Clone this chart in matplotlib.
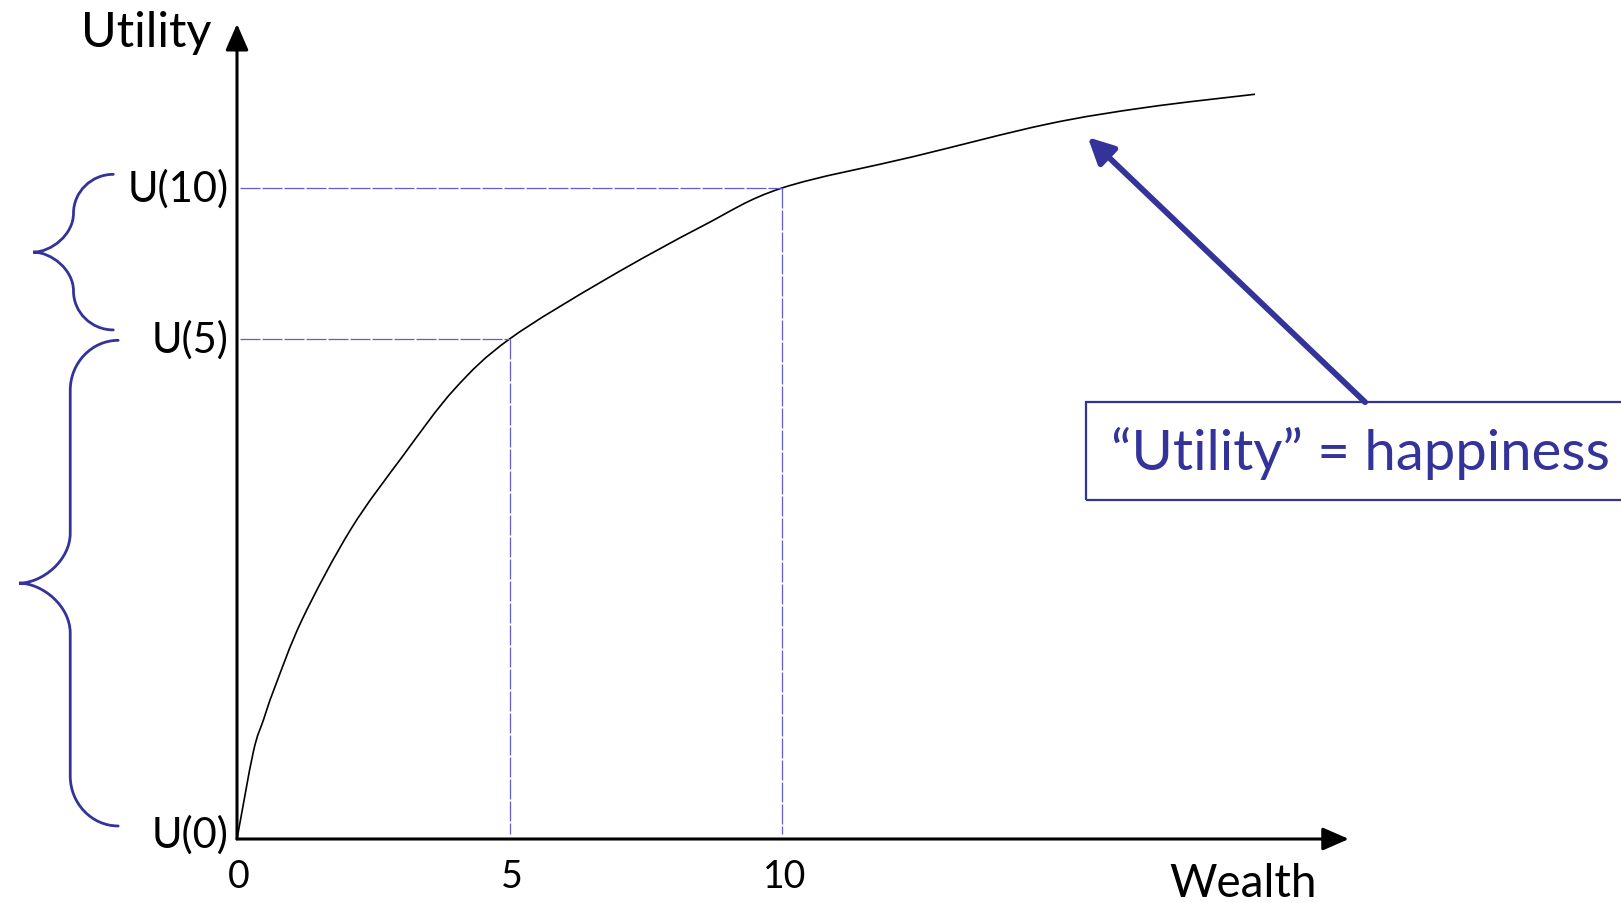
import numpy as np
import matplotlib.pyplot as plt
from matplotlib.path import Path
from matplotlib.patches import PathPatch, Rectangle

# ─────────────────────────────────────────────
#  Data (wealth, utility)
# ─────────────────────────────────────────────
wealth  = [0.0, 0.30, 0.49, 0.68, 1.20, 2.09, 3.04, 3.99, 5.0,
           6.77, 8.55, 10.0, 12.40, 14.86, 16.70, 18.68]
utility = [0.0, 1.34, 1.84, 2.30, 3.38, 4.76, 5.88, 6.91, 7.68,
           8.60, 9.42, 10.0, 10.48, 10.98, 11.24, 11.44]

marked_wealth  = [5, 10]          # dashed guides
marked_utility = [7.68, 10.0]     # U(5), U(10)
x_ticks        = [0, 5, 10]
x_ticklabels   = ["0", "5", "10"]
u_labels       = ["U(0)", "U(5)", "U(10)"]
u_values       = [0.0, 7.68, 10.0]

BLUE      = "#33339a"
DASH_BLUE = "#5f5fc6"
FONT      = "Lato"

# pixel scale of the sketch: 54.5 px per wealth unit, 65.1 px per utility unit
PX_W, PX_U = 54.5, 65.1
X0, Y0 = 237, 840                 # origin in pixels
W, H = 1621, 904

fig = plt.figure(figsize=(W / 100, H / 100), dpi=100, facecolor="white")
ax = fig.add_axes([0, 0, 1, 1])
ax.set_xlim(-X0 / PX_W, (W - X0) / PX_W)
ax.set_ylim(-(H - Y0) / PX_U, Y0 / PX_U)
ax.axis("off")

# ── axes with arrow heads ──
x_end, u_end = 20.4, 12.52
head = "-|>,head_length=0.8,head_width=0.35"
ax.annotate("", xy=(x_end, 0), xytext=(0, 0),
            arrowprops=dict(arrowstyle=head, lw=2.2, color="black",
                            shrinkA=0, shrinkB=0, mutation_scale=20))
ax.annotate("", xy=(0, u_end), xytext=(0, 0),
            arrowprops=dict(arrowstyle=head, lw=2.2, color="black",
                            shrinkA=0, shrinkB=0, mutation_scale=20))


# ── utility curve, drawn as a smooth path through the read points ──
def smooth_path(xs, ys):
    p = np.column_stack([xs, ys])
    ext = np.vstack([p[0], p, p[-1]])
    verts, codes = [tuple(p[0])], [Path.MOVETO]
    for i in range(1, len(ext) - 2):
        c1 = ext[i] + (ext[i + 1] - ext[i - 1]) / 6
        c2 = ext[i + 1] - (ext[i + 2] - ext[i]) / 6
        verts += [tuple(c1), tuple(c2), tuple(ext[i + 1])]
        codes += [Path.CURVE4] * 3
    return Path(verts, codes)


ax.add_patch(PathPatch(smooth_path(wealth, utility), fill=False,
                       edgecolor="black", lw=1.2))

# ── dashed guides ──
for w, u in zip(marked_wealth, marked_utility):
    ax.plot([0.06, w], [u, u], color=DASH_BLUE, lw=0.9,
            linestyle=(0, (16, 1.6)))
    ax.plot([w, w], [u, 0.08], color=DASH_BLUE, lw=0.9,
            linestyle=(0, (16, 1.6)))

# ── tick labels ──
for t, lbl in zip(x_ticks, x_ticklabels):
    ax.text(t + 0.04, -0.57, lbl, ha="center", va="center",
            fontsize=27, family=FONT)
ax.text(18.46, -0.68, "Wealth", ha="center", va="center",
        fontsize=33, family=FONT)
ax.text(-0.46, 12.4, "Utility", ha="right", va="center",
        fontsize=35, family=FONT)

offsets = [0.08, 0.0, 0.0]
for u, lbl, off in zip(u_values, u_labels, offsets):
    ax.text(-0.16, u + off, lbl, ha="right", va="center",
            fontsize=30, family=FONT)


# ── curly braces ──
def brace(x_end, x_mid, x_tip, u_top, u_bot, r_px):
    r = min(r_px / PX_U, (u_top - u_bot) / 4)
    u_tip = (u_top + u_bot) / 2
    dx_e = x_end - x_mid
    dx_t = x_mid - x_tip
    verts = [
        (x_end, u_top),
        (x_mid + 0.45 * dx_e, u_top), (x_mid, u_top - 0.45 * r), (x_mid, u_top - r),
        (x_mid, u_tip + r),
        (x_mid, u_tip + 0.45 * r), (x_tip + 0.45 * dx_t, u_tip), (x_tip, u_tip),
        (x_tip + 0.45 * dx_t, u_tip), (x_mid, u_tip - 0.45 * r), (x_mid, u_tip - r),
        (x_mid, u_bot + r),
        (x_mid, u_bot + 0.45 * r), (x_mid + 0.45 * dx_e, u_bot), (x_end, u_bot),
    ]
    codes = [Path.MOVETO,
             Path.CURVE4, Path.CURVE4, Path.CURVE4,
             Path.LINETO,
             Path.CURVE4, Path.CURVE4, Path.CURVE4,
             Path.CURVE4, Path.CURVE4, Path.CURVE4,
             Path.LINETO,
             Path.CURVE4, Path.CURVE4, Path.CURVE4]
    ax.add_patch(PathPatch(Path(verts, codes), fill=False,
                           edgecolor=BLUE, lw=2.0, capstyle="round"))


brace(-2.27, -3.0, -3.74, 10.21, 7.82, 40)
brace(-2.18, -3.06, -4.0, 7.66, 0.20, 50)

# ── annotation box + arrow ──
ax.add_patch(Rectangle((15.58, 5.21), 11.0, 1.50, fill=False,
                       edgecolor=BLUE, lw=1.6))
ax.text(16.04, 5.94, "\u201cUtility\u201d = happiness", ha="left", va="center",
        fontsize=40.5, family=FONT, color=BLUE)
ax.annotate("", xy=(15.61, 10.78), xytext=(20.70, 6.71),
            arrowprops=dict(arrowstyle="-|>,head_length=0.7,head_width=0.35",
                            lw=4.2, color=BLUE, shrinkA=0, shrinkB=0,
                            mutation_scale=22))

plt.savefig("out.png", dpi=100, facecolor=fig.get_facecolor())
plt.close()
